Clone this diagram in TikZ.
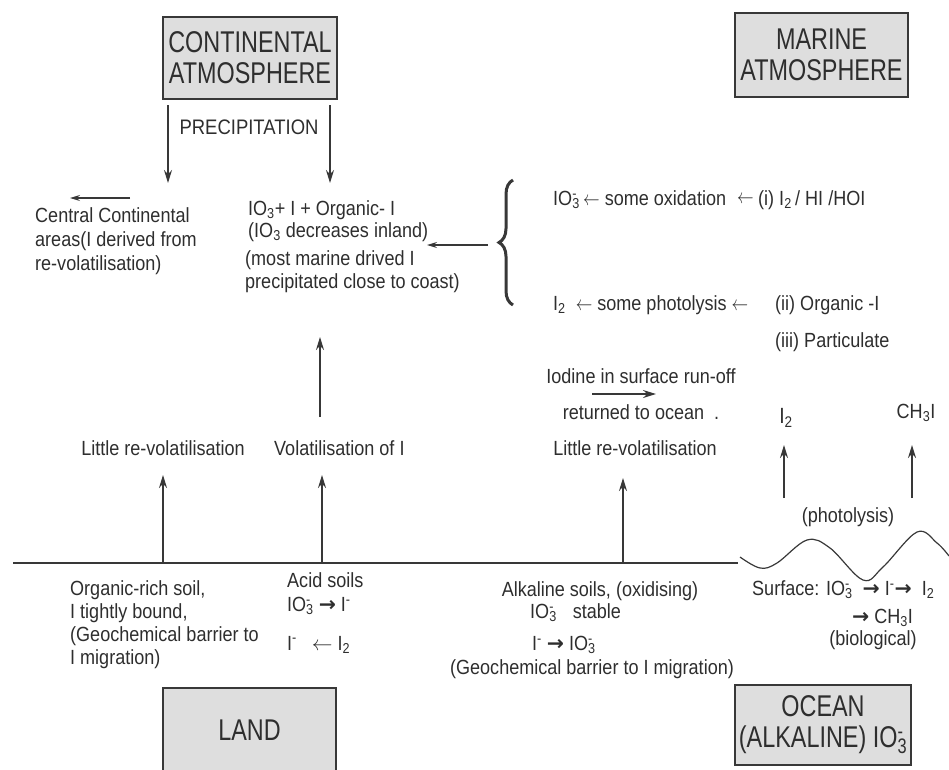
\documentclass[tikz,border=0pt]{standalone}
\usepackage{fontspec}
\setmainfont{Liberation Sans}[FakeStretch=0.88]
\newfontfamily\boxfont{Liberation Sans}[FakeStretch=0.78]
\newfontfamily\symfont{DejaVu Sans}
\usetikzlibrary{arrows.meta,decorations.pathreplacing}
\definecolor{ink}{gray}{0.18}
\definecolor{lineC}{gray}{0.22}
\definecolor{boxfill}{gray}{0.87}
\newcommand\IOt{IO\rlap{\textsuperscript{-}}\textsubscript{3}}
\newcommand\Itwo{I\textsubscript{2}}
\newcommand\boldra{{\symfont\bfseries →}}
\newcommand\shortla{\scalebox{0.8}[1]{$\leftarrow$}}
\tikzset{
  txt/.style={inner sep=0pt, text=ink, font=\fontsize{20.5}{24}\selectfont},
  bigbox/.style={draw=lineC, line width=1.4pt, fill=boxfill, inner sep=0pt,
    font=\boxfont\fontsize{30}{31}\selectfont, align=center, text=ink},
  arr/.style={draw=lineC, line width=1.6pt, -{Stealth[length=13pt,width=8pt]}},
  thinarr/.style={draw=lineC, line width=1.2pt, -{Stealth[length=10pt,width=6pt]}},
  groundline/.style={draw=lineC, line width=1.4pt},
  bracestyle/.style={draw=lineC, line width=3pt,
    decorate, decoration={brace, amplitude=14pt, aspect=0.5}},
}
\begin{document}
\begin{tikzpicture}[x=1pt,y=-1pt]
\useasboundingbox (0,0) rectangle (949,769);
\clip (0,0) rectangle (949,769);

% boxes
\node[bigbox, minimum width=174pt, minimum height=82pt] (cont) at (250,58) {CONTINENTAL\\ATMOSPHERE};
\node[bigbox, minimum width=173pt, minimum height=84pt] (marine) at (821.5,55) {MARINE\\ATMOSPHERE};
\node[bigbox, minimum width=173pt, minimum height=84pt] (land) at (249.5,730) {LAND};
\node[bigbox, minimum width=176pt, minimum height=80pt] (ocean) at (823,725) {OCEAN\\(ALKALINE) \IOt};

% precipitation
\node[txt, font=\fontsize{21}{24}\selectfont] (prec) at (249,127) {PRECIPITATION};
\coordinate (p1s) at (168,105); \coordinate (p1e) at (168,183);
\coordinate (p2s) at (330,105); \coordinate (p2e) at (330,183);
\draw[arr] (p1s) -- (p1e);
\draw[arr] (p2s) -- (p2e);

% central continental
\node[txt, anchor=west, align=left] (cca) at (35,241) {Central Continental\\areas(I derived from\\re-volatilisation)};
\coordinate (c1s) at (130,198); \coordinate (c1e) at (70,198);
\draw[thinarr] (c1s) -- (c1e);

% inland deposition
\node[txt, anchor=west, align=left, font=\fontsize{20.5}{22}\selectfont] (inl) at (248,221) {IO\textsubscript{3}+ I + Organic- I\\(IO\textsubscript{3} decreases inland)};
\node[txt, anchor=west, align=left, font=\fontsize{20.5}{23}\selectfont] (mar) at (245,272) {(most marine drived I\\precipitated close to coast)};

% brace and arrow
\coordinate (br1) at (513,305); \coordinate (br2) at (513,180);
\draw[bracestyle] (br1) -- (br2);
\coordinate (b1s) at (488,245); \coordinate (b1e) at (427,245);
\draw[thinarr] (b1s) -- (b1e);

% marine reactions
\node[txt, anchor=west] (oxi) at (553,200) {\IOt\,\shortla\ some oxidation};
\node[txt, anchor=west] (oxa) at (737,200) {\shortla};
\node[txt, anchor=west] (src1) at (758,200) {(i) \Itwo\,/ HI /HOI};
\node[txt, anchor=west] (pho) at (553,305) {\Itwo\ \ \shortla\ some photolysis \shortla};
\node[txt, anchor=west] (src2) at (775,305) {(ii) Organic -I};
\node[txt, anchor=west] (src3) at (775,342) {(iii) Particulate};

% middle row
\node[txt] (lrv1) at (163,448) {Little re-volatilisation};
\node[txt, anchor=west] (vol) at (274,448) {Volatilisation of I};
\node[txt] (iod) at (641,376) {Iodine in surface run-off};
\node[txt] (ret) at (641,412) {returned to ocean\ \ .};
\node[txt] (lrv2) at (635,448) {Little re-volatilisation};
\node[txt, font=\fontsize{22}{24}\selectfont] (i2b) at (786,418) {\Itwo};
\node[txt] (ch3i) at (916,413) {CH\textsubscript{3}I};
\node[txt] (phot) at (848,517) {(photolysis)};

\coordinate (r1s) at (592,394); \coordinate (r1e) at (656,394);
\draw[arr] (r1s) -- (r1e);

\coordinate (a1s) at (163,562); \coordinate (a1e) at (163,475);
\coordinate (a2s) at (322,562); \coordinate (a2e) at (322,475);
\coordinate (a3s) at (320,417); \coordinate (a3e) at (320,337);
\coordinate (a4s) at (623,562); \coordinate (a4e) at (623,478);
\coordinate (a5s) at (784,498); \coordinate (a5e) at (784,445);
\coordinate (a6s) at (912,498); \coordinate (a6e) at (912,445);
\draw[arr] (a1s) -- (a1e);
\draw[arr] (a2s) -- (a2e);
\draw[arr] (a3s) -- (a3e);
\draw[arr] (a4s) -- (a4e);
\draw[arr] (a5s) -- (a5e);
\draw[arr] (a6s) -- (a6e);

% ground line and sea surface
\coordinate (g1) at (13,563); \coordinate (g2) at (738,563);
\draw[groundline] (g1) -- (g2);
\draw[groundline, line width=1.2pt] plot[smooth, tension=0.6] coordinates {(740,557) (760,568) (777,563) (807,540) (830,548) (863,580) (883,567) (917,532) (937,543) (949,556)};

% soils
\node[txt, anchor=west, align=left, font=\fontsize{20.5}{23}\selectfont] (org) at (70,625) {Organic-rich soil,\\I tightly bound,\\(Geochemical barrier to\\I migration)};
\node[txt, anchor=west] (acid) at (287,580) {Acid soils};
\node[txt, anchor=west] (acid2) at (287,606) {\IOt\ \boldra\ I\textsuperscript{-}};
\node[txt, anchor=west] (acid3) at (287,645) {I\textsuperscript{-}\ \ \ $\leftarrow$ \Itwo};

\node[txt] (alk) at (600,591) {Alkaline soils, (oxidising)};
\node[txt, anchor=west] (alk2) at (530,613) {\IOt\hspace{16pt}stable};
\node[txt, anchor=west] (alk3) at (532,645) {I\textsuperscript{-} \boldra\ \IOt};
\node[txt] (alk4) at (592,669) {(Geochemical barrier to I migration)};

\node[txt, anchor=west] (surf) at (752,590) {Surface: \IOt\ \ \boldra\ I\textsuperscript{-}\boldra\ \ \Itwo};
\node[txt, anchor=west] (ch3i2) at (852,618) {\boldra\ CH\textsubscript{3}I};
\node[txt] (bio) at (873,640) {(biological)};
\end{tikzpicture}
\end{document}
